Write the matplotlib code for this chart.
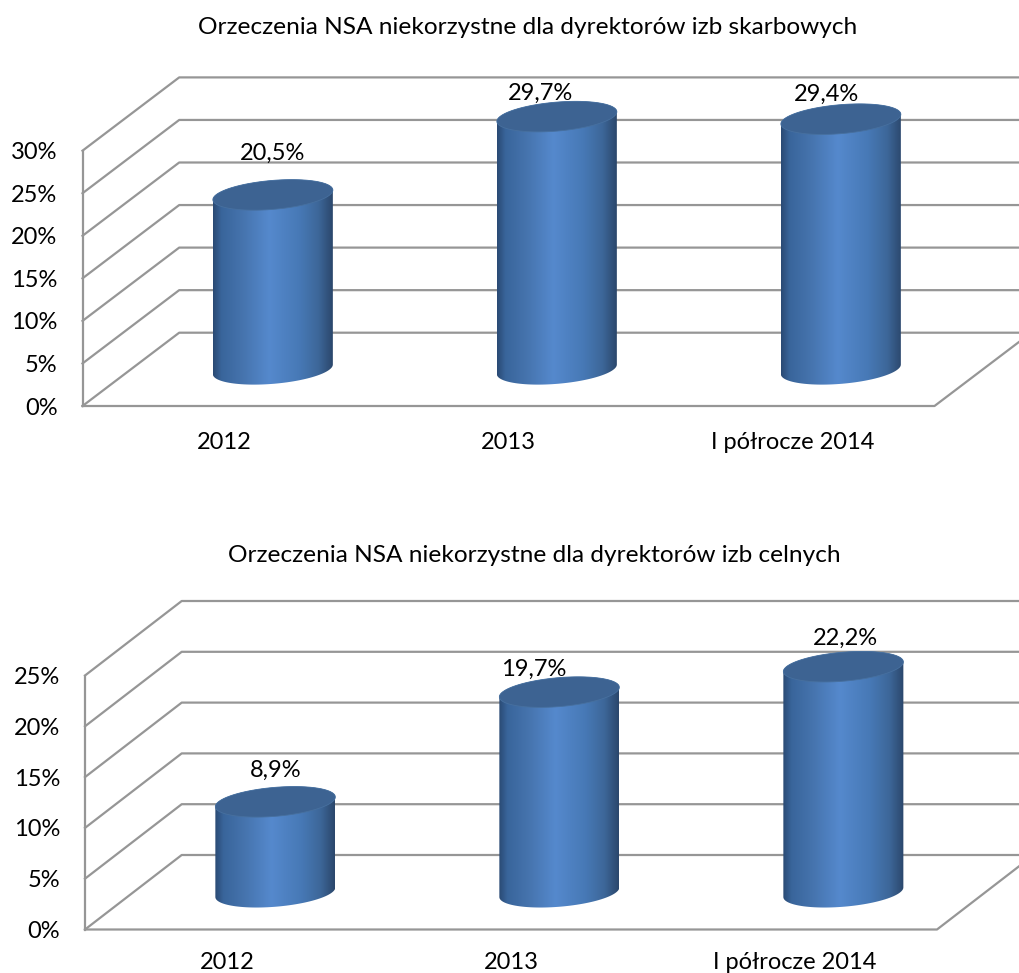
import numpy as np
import matplotlib.pyplot as plt
from matplotlib.colors import LinearSegmentedColormap
from matplotlib.patches import PathPatch
from matplotlib.path import Path

plt.rcParams['font.family'] = ['Lato', 'DejaVu Sans']

# data
categories = ['2012', '2013', 'I półrocze 2014']
title_top = 'Orzeczenia NSA niekorzystne dla dyrektorów izb skarbowych'
values_top = [20.5, 29.7, 29.4]
labels_top = ['20,5%', '29,7%', '29,4%']
ticks_top = [0, 5, 10, 15, 20, 25, 30]
title_bottom = 'Orzeczenia NSA niekorzystne dla dyrektorów izb celnych'
values_bottom = [8.9, 19.7, 22.2]
labels_bottom = ['8,9%', '19,7%', '22,2%']
ticks_bottom = [0, 5, 10, 15, 20, 25]

W, H = 1019, 973
GRID = '#969696'
body_cmap = LinearSegmentedColormap.from_list('body', [
    (0.0, '#2a4a74'), (0.07, '#39659b'), (0.25, '#4674ae'), (0.47, '#5589cd'),
    (0.72, '#4779b6'), (0.88, '#3d6799'), (1.0, '#2b476c')])


def cylinder(ax, xc, val, kx, ky, dx, dy):
    # kx, ky = data units per pixel, base sits halfway into the floor
    r, b, tilt = 60 * kx, 14.5 * ky, 4.8 * ky
    x0 = xc + dx / 2
    y0 = dy / 2
    t = np.linspace(0, np.pi, 60)
    ex = np.cos(t)
    ey = np.sin(t)
    # outline: top half of upper ellipse, bottom half of lower ellipse
    top_x = x0 + r * ex
    top_y = y0 + val + b * ey + tilt * ex
    low_x = x0 + r * ex[::-1]
    low_y = y0 - b * ey[::-1] + tilt * ex[::-1]
    xs = np.r_[top_x, low_x, top_x[0]]
    ys = np.r_[top_y, low_y, top_y[0]]
    outline = PathPatch(Path(np.c_[xs, ys]), fc='none', ec='none', transform=ax.transData)
    ax.add_patch(outline)
    grad = np.linspace(0, 1, 256).reshape(1, -1)
    im = ax.imshow(grad, cmap=body_cmap, aspect='auto', zorder=3,
                   extent=[x0 - r, x0 + r, y0 - 2 * b, y0 + val + 2 * b])
    im.set_clip_path(outline)
    im.set_clip_box(ax.figure.bbox)
    # top cap
    tt = np.linspace(0, 2 * np.pi, 120)
    ax.fill(x0 + r * np.cos(tt), y0 + val + b * np.sin(tt) + tilt * np.cos(tt),
            fc='#3d6392', ec='#47709f', lw=0.6, zorder=4, clip_on=False)


def panel(box, values, labels, ticks, title, title_xy, label_shift, xpad):
    left, floor, width, tall, depth_x, depth_y = box
    ax = fig.add_axes([left / W, 1 - floor / H, width / W, tall / H])
    ymax = ticks[-1]
    kx = 3 / width
    ky = ymax / tall
    dx = depth_x * kx
    dy = depth_y * ky
    for t in ticks:
        ax.plot([0, dx, 3 + dx], [t, t + dy, t + dy], color=GRID, lw=1.6, zorder=1, clip_on=False)
    ax.plot([0, 0], [0, ymax], color=GRID, lw=1.6, zorder=1, clip_on=False)
    ax.plot([0, 3, 3 + dx], [0, 0, dy], color=GRID, lw=1.6, zorder=1, clip_on=False)

    for i, v in enumerate(values):
        cylinder(ax, i + 0.5, v, kx, ky, dx, dy)
        ax.annotate(labels[i], (i + 0.5 + dx / 2, v + dy / 2), ha='center', va='center',
                    xytext=(label_shift[i][0] * 0.72, label_shift[i][1] * 0.72),
                    textcoords='offset points', fontsize=17, color='black', zorder=5,
                    annotation_clip=False)

    ax.set_xlim(0, 3)
    ax.set_ylim(0, ymax)
    ax.set_xticks([0.5, 1.5, 2.5], categories)
    ax.set_yticks(ticks, [str(t) + '%' for t in ticks])
    ax.tick_params(axis='x', length=0, pad=xpad, labelsize=17)
    ax.tick_params(axis='y', length=0, pad=18, labelsize=17)
    for s in ax.spines.values():
        s.set_visible(False)
    ax.patch.set_visible(False)
    fig.text(title_xy[0] / W, 1 - title_xy[1] / H, title, ha='center', va='center', fontsize=17.6)


fig = plt.figure(figsize=(W / 100, H / 100), dpi=100)
panel((82.5, 406, 852, 255.3, 96.7, 73.3), values_top, labels_top, ticks_top, title_top,
      (528, 27), [(0, 42), (-16, 23.5), (-14, 24.5)], 18.5)
panel((85, 929.5, 852, 254, 96.7, 74.5), values_bottom, labels_bottom, ticks_bottom, title_bottom,
      (534, 556), [(0, 31), (-26, 23), (2, 28)], 16.5)
fig.savefig('out.png', dpi=100)
